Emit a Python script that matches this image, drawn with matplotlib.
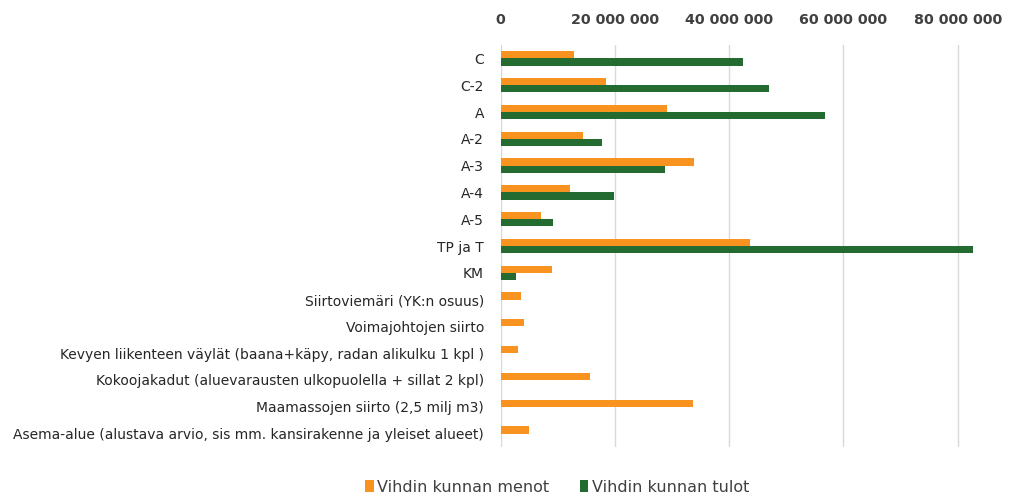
import numpy as np
import matplotlib.pyplot as plt
from matplotlib.ticker import FuncFormatter

# kohteet ja kunnan menot / tulot (euroa)
categories = [
    "C", "C-2", "A", "A-2", "A-3", "A-4", "A-5", "TP ja T", "KM",
    "Siirtoviemäri (YK:n osuus)",
    "Voimajohtojen siirto",
    "Kevyen liikenteen väylät (baana+käpy, radan alikulku 1 kpl )",
    "Kokoojakadut (aluevarausten ulkopuolella + sillat 2 kpl)",
    "Maamassojen siirto (2,5 milj m3)",
    "Asema-alue (alustava arvio, sis mm. kansirakenne ja yleiset alueet)",
]
menot = [12.8e6, 18.5e6, 29.1e6, 14.4e6, 33.9e6, 12.1e6, 7.0e6, 43.6e6, 8.9e6,
         3.6e6, 4.1e6, 3.0e6, 15.6e6, 33.7e6, 5.0e6]
tulot = [42.4e6, 46.9e6, 56.7e6, 17.7e6, 28.7e6, 19.8e6, 9.2e6, 82.7e6, 2.7e6,
         0, 0, 0, 0, 0, 0]
x_ticks = [0, 20e6, 40e6, 60e6, 80e6]
series_names = ["Vihdin kunnan menot", "Vihdin kunnan tulot"]

ORANGE = "#F7931E"
GREEN = "#236B30"

plt.rcParams['font.family'] = ['DejaVu Sans']

fig = plt.figure(figsize=(10.24, 4.95), dpi=100)
ax = fig.add_axes([0.489, 0.097, 0.502, 0.812])

y = np.arange(len(categories))
h = 0.27
ax.barh(y - h / 2, menot, height=h, color=ORANGE, label=series_names[0], zorder=3)
ax.barh(y + h / 2, tulot, height=h, color=GREEN, label=series_names[1], zorder=3)

ax.set_ylim(len(categories) - 0.5, -0.5)
ax.set_xlim(0, 90e6)
ax.set_xticks(x_ticks)
ax.xaxis.set_major_formatter(FuncFormatter(lambda v, p: f"{v:,.0f}".replace(",", " ")))
ax.xaxis.tick_top()
ax.tick_params(axis='x', length=0, pad=13, labelsize=10.3, labelcolor='#404040')
for lbl in ax.get_xticklabels():
    lbl.set_fontweight('bold')
ax.tick_params(axis='y', length=0, pad=12, labelsize=10, labelcolor='#262626')
ax.set_yticks(y)
ax.set_yticklabels(categories)

ax.grid(axis='x', color='#D9D9D9', linewidth=1, zorder=0)
for s in ax.spines.values():
    s.set_visible(False)

fig.legend(loc='center', bbox_to_anchor=(0.544, 0.016), ncol=2, frameon=False,
           fontsize=11.5, handlelength=0.55, handleheight=0.8, handletextpad=0.2,
           columnspacing=1.9, labelcolor='#404040')

fig.savefig("out.png", dpi=100)
